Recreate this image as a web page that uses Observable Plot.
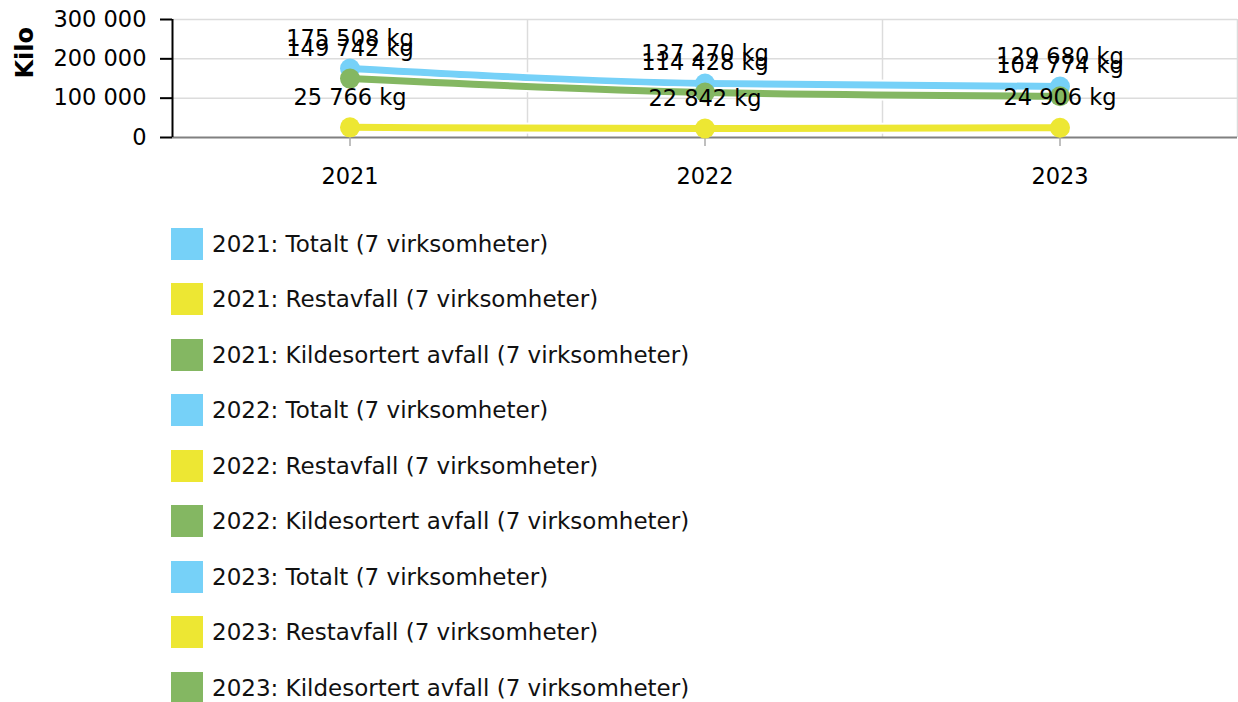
<!DOCTYPE html>
<html>
<head>
<meta charset="utf-8">
<script src="https://cdn.jsdelivr.net/npm/d3@7"></script>
<script src="https://cdn.jsdelivr.net/npm/@observablehq/plot@0.6"></script>
<style>
  html, body { margin: 0; padding: 0; background: #fff; }
  body { width: 1238px; height: 702px; overflow: hidden; font-family: "DejaVu Sans", Verdana, sans-serif; }
  #legend { margin-left: 171px; margin-top: 16px; }
  .item { display: flex; align-items: center; height: 55.5px; }
  .sw { width: 32px; height: 32px; margin-right: 9px; flex: none; }
  .lab { font-size: 23px; color: #111; white-space: nowrap; }
</style>
</head>
<body>
<div id="chart"></div>
<div id="legend"></div>
<script>
const years = [2021, 2022, 2023];
const seriesNames = ["Totalt", "Restavfall", "Kildesortert avfall"];
const seriesColors = ["#76d1f8", "#ede733", "#84b762"];
const totalt = [175508, 137270, 129680];
const restavfall = [25766, 22842, 24906];
const kildesortert = [149742, 114428, 104774];
const businesses = [7, 7, 7];
const yTicks = [0, 100000, 200000, 300000];
const yLabel = "Kilo";
const unit = "kg";

const seriesValues = [totalt, restavfall, kildesortert];
const data = [];
seriesNames.forEach((s, si) => years.forEach((yr, yi) => data.push({series: s, year: yr, value: seriesValues[si][yi]})));

const loc = d3.formatLocale({thousands: " ", grouping: [3], decimal: ",", currency: ["", ""]});
const fmt = loc.format(",d");

const gridX = years.slice(0, -1).map((y, i) => (y + years[i + 1]) / 2);
const xDomain = [years[0] - 0.5, years[years.length - 1] + 0.5];

const font = "DejaVu Sans, Verdana, sans-serif";
const fs = 22.5;

const marks = [
  Plot.ruleY(yTicks.filter(d => d > 0), {stroke: "#dcdcdc", strokeWidth: 1.5}),
  Plot.ruleX(gridX, {stroke: "#dcdcdc", strokeWidth: 1.5}),
  Plot.ruleX([xDomain[1]], {stroke: "#dcdcdc", strokeWidth: 1.5}),
  Plot.axisY({ticks: yTicks, tickFormat: fmt, tickSize: 12, tickPadding: 14, label: null, fontSize: fs, stroke: "#000", strokeWidth: 2, strokeOpacity: 1}),
  Plot.ruleY([0], {stroke: "#808080", strokeWidth: 2}),
  Plot.ruleX([xDomain[0]], {stroke: "#000", strokeWidth: 2}),
  Plot.axisX({ticks: years, tickFormat: d => String(d), tickSize: 9, tickPadding: 22, label: null, fontSize: fs, stroke: "#aaa", strokeWidth: 1.5}),
  Plot.text([yLabel], {frameAnchor: "left", dx: -147, rotate: -90, fontWeight: "bold", fontSize: 24, fill: "#000"})
];
seriesNames.forEach((s, si) => {
  const d = data.filter(r => r.series === s);
  marks.push(Plot.line(d, {x: "year", y: "value", stroke: "#fff", strokeWidth: 11, curve: "monotone-x"}));
  marks.push(Plot.line(d, {x: "year", y: "value", stroke: seriesColors[si], strokeWidth: 7, curve: "monotone-x"}));
});
seriesNames.forEach((s, si) => {
  const d = data.filter(r => r.series === s);
  marks.push(Plot.dot(d, {x: "year", y: "value", r: 10, fill: seriesColors[si], stroke: "none"}));
});
seriesNames.forEach((s, si) => {
  const d = data.filter(r => r.series === s);
  marks.push(Plot.text(d, {x: "year", y: "value", text: r => fmt(r.value) + " " + unit, dy: -30, fontSize: fs, fill: "#000"}));
});

const chart = Plot.plot({
  width: 1238,
  height: 200,
  marginLeft: 172,
  marginRight: 1,
  marginTop: 19,
  marginBottom: 63,
  style: {fontFamily: font, fontSize: fs + "px", color: "#000", background: "#fff", overflow: "visible"},
  x: {type: "linear", domain: xDomain, axis: null},
  y: {domain: [0, 300000], axis: null},
  marks
});
document.getElementById("chart").appendChild(chart);

const legend = document.getElementById("legend");
years.forEach((yr, yi) => {
  seriesNames.forEach((s, si) => {
    const item = document.createElement("div");
    item.className = "item";
    const sw = document.createElement("div");
    sw.className = "sw";
    sw.style.background = seriesColors[si];
    const lab = document.createElement("span");
    lab.className = "lab";
    lab.textContent = `${yr}: ${s} (${businesses[yi]} virksomheter)`;
    item.appendChild(sw);
    item.appendChild(lab);
    legend.appendChild(item);
  });
});
</script>
</body>
</html>
